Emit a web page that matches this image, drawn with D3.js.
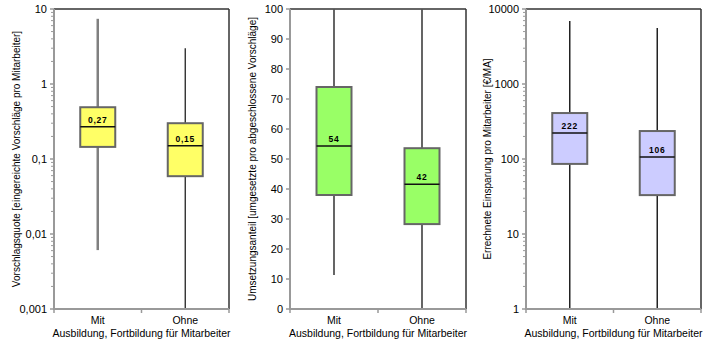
<!DOCTYPE html>
<html><head><meta charset="utf-8">
<script src="https://cdn.jsdelivr.net/npm/d3@7"></script>
<style>body{margin:0;background:#fff}text{font-family:"Liberation Sans",Arial,sans-serif}</style>
</head><body><svg id="c" width="709" height="355"></svg>
<script>
const categories = ["Mit", "Ohne"];
const xTitle = "Ausbildung, Fortbildung für Mitarbeiter";

// panel 1: Vorschlagsquote (log)
const quoteMin = [0.0061, 0.001];
const quoteQ1 = [0.145, 0.059];
const quoteMedian = [0.27, 0.15];
const quoteQ3 = [0.49, 0.30];
const quoteMax = [7.4, 3.0];
const quoteLabels = ["0,27", "0,15"];
const quoteTicks = [0.001, 0.01, 0.1, 1, 10];
const quoteTickLabels = ["0,001", "0,01", "0,1", "1", "10"];

// panel 2: Umsetzungsanteil (linear)
const umsMin = [11.3, 0];
const umsQ1 = [38, 28.3];
const umsMedian = [54.3, 41.6];
const umsQ3 = [74, 53.6];
const umsMax = [100, 100];
const umsLabels = ["54", "42"];
const umsTicks = [0, 10, 20, 30, 40, 50, 60, 70, 80, 90, 100];

// panel 3: Einsparung (log)
const einMin = [1, 1];
const einQ1 = [86, 33];
const einMedian = [222, 106];
const einQ3 = [410, 236];
const einMax = [6900, 5580];
const einLabels = ["222", "106"];
const einTicks = [1, 10, 100, 1000, 10000];
const einTickLabels = ["1", "10", "100", "1000", "10000"];

const panels = [
  {x0:54, x1:229, log:true, domain:[0.001,10], ticks:quoteTicks, tickLabels:quoteTickLabels,
   min:quoteMin,q1:quoteQ1,med:quoteMedian,q3:quoteQ3,max:quoteMax,labels:quoteLabels,
   fill:"#ffff66", title:"Vorschlagsquote [eingereichte Vorschläge pro Mitarbeiter]", titleX:16,
   whisker:["#808080","#222"], whW:[2.5,1.3]},
  {x0:290, x1:466, log:false, domain:[0,100], ticks:umsTicks, tickLabels:umsTicks.map(String),
   min:umsMin,q1:umsQ1,med:umsMedian,q3:umsQ3,max:umsMax,labels:umsLabels,
   fill:"#99ff66", title:"Umsetzungsanteil [umgesetzte pro abgeschlossene Vorschläge]", titleX:252,
   whisker:["#555","#555"], whW:[1.8,1.8]},
  {x0:526, x1:701, log:true, domain:[1,10000], ticks:einTicks, tickLabels:einTickLabels,
   min:einMin,q1:einQ1,med:einMedian,q3:einQ3,max:einMax,labels:einLabels,
   fill:"#ccccff", title:"Errechnete Einsparung pro Mitarbeiter [€/MA]", titleX:487,
   whisker:["#222","#222"], whW:[1.5,1.5]}
];

const svg = d3.select("#c");
const yTop = 9, yBot = 309;

panels.forEach(p => {
  const g = svg.append("g");
  const y = (p.log ? d3.scaleLog() : d3.scaleLinear()).domain(p.domain).range([yBot, yTop]);
  const x = d3.scaleBand().domain(categories).range([p.x0, p.x1]).paddingInner(0).paddingOuter(0);
  const bw = 35;

  if (p.log) {
    const minors = [];
    const lo = Math.log10(p.domain[0]), hi = Math.log10(p.domain[1]);
    for (let e = lo; e < hi; e++) for (let m = 2; m <= 9; m++) minors.push(m * Math.pow(10, e));
    g.selectAll(".minor").data(minors).enter().append("line")
      .attr("x1", p.x0 - 3).attr("x2", p.x0).attr("y1", d => y(d)).attr("y2", d => y(d))
      .attr("stroke", "#999").attr("stroke-width", 1);
  }
  g.selectAll(".major").data(p.ticks).enter().append("line")
    .attr("x1", p.x0 - 4).attr("x2", p.x0).attr("y1", d => y(d)).attr("y2", d => y(d))
    .attr("stroke", "#999").attr("stroke-width", 1.5);
  g.selectAll(".tl").data(p.ticks).enter().append("text")
    .attr("x", p.x0 - 7).attr("y", d => y(d)).attr("dy", "0.35em")
    .attr("text-anchor", "end").attr("font-size", 11).attr("fill", "#000")
    .text((d, i) => p.tickLabels[i]);

  g.append("line").attr("x1", p.x0).attr("x2", p.x1).attr("y1", yTop).attr("y2", yTop).attr("stroke", "#333").attr("stroke-width", 1.5);
  g.append("line").attr("x1", p.x1).attr("x2", p.x1).attr("y1", yTop).attr("y2", yBot).attr("stroke", "#333").attr("stroke-width", 1.5);

  categories.forEach((c, i) => {
    const cx = x(c) + x.bandwidth() / 2;
    g.append("line").attr("x1", cx).attr("x2", cx).attr("y1", y(p.max[i])).attr("y2", y(p.q3[i]))
      .attr("stroke", p.whisker[i]).attr("stroke-width", p.whW[i]);
    g.append("line").attr("x1", cx).attr("x2", cx).attr("y1", y(p.q1[i])).attr("y2", y(p.min[i]))
      .attr("stroke", p.whisker[i]).attr("stroke-width", p.whW[i]);
    g.append("rect").attr("x", cx - bw / 2).attr("width", bw)
      .attr("y", y(p.q3[i])).attr("height", y(p.q1[i]) - y(p.q3[i]))
      .attr("fill", p.fill).attr("stroke", "#666").attr("stroke-width", 2);
    g.append("line").attr("x1", cx - bw / 2).attr("x2", cx + bw / 2).attr("y1", y(p.med[i])).attr("y2", y(p.med[i]))
      .attr("stroke", "#111").attr("stroke-width", 1.5);
    g.append("text").attr("x", cx).attr("y", y(p.med[i]) - 4)
      .attr("text-anchor", "middle").attr("font-size", 8.5).attr("font-weight", "bold")
      .attr("letter-spacing", "0.8px").attr("fill", "#000").text(p.labels[i]);
  });

  g.append("line").attr("x1", p.x0).attr("x2", p.x0).attr("y1", yTop).attr("y2", yBot + 1).attr("stroke", "#999").attr("stroke-width", 2);
  g.append("line").attr("x1", p.x0 - 1).attr("x2", p.x1).attr("y1", yBot).attr("y2", yBot).attr("stroke", "#999").attr("stroke-width", 2);
  const bounds = [p.x0, p.x0 + x.bandwidth(), p.x1];
  g.selectAll(".bt").data(bounds).enter().append("line")
    .attr("x1", d => d).attr("x2", d => d).attr("y1", yBot).attr("y2", yBot + 4)
    .attr("stroke", "#999").attr("stroke-width", 1.5);
  g.selectAll(".cl").data(categories).enter().append("text")
    .attr("x", d => x(d) + x.bandwidth() / 2).attr("y", 324)
    .attr("text-anchor", "middle").attr("font-size", 10.5).attr("fill", "#000").text(d => d);
  g.append("text").attr("x", (p.x0 + p.x1) / 2).attr("y", 337)
    .attr("text-anchor", "middle").attr("font-size", 10.5).attr("fill", "#000").text(xTitle);
  g.append("text").attr("transform", `translate(${p.titleX},${(yTop + yBot) / 2}) rotate(-90)`)
    .attr("dy", "0.35em").attr("text-anchor", "middle").attr("font-size", 10).attr("fill", "#000").text(p.title);
});
</script></body></html>
